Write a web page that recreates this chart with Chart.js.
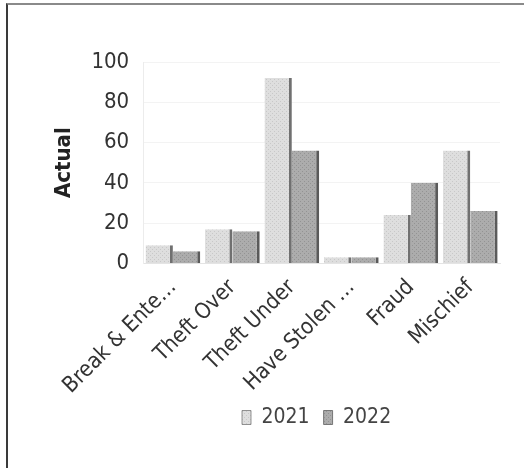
<!DOCTYPE html>
<html>
<head>
<meta charset="utf-8">
<script src="https://cdn.jsdelivr.net/npm/chart.js@4"></script>
<style>
    html, body { margin:0; padding:0; background:#fff; overflow:hidden; }
    #frame {
        position:absolute; left:0; top:0; width:524px; height:468px;
        box-sizing:border-box;
        border-top:2px solid #8a8a8a;
        border-left:2px solid #3a3a3a;
        margin-left:6px; margin-top:3px;
    }
    #chart { position:absolute; left:8px; top:5px; }
</style>
</head>
<body>
<div id="frame"></div>
<canvas id="chart" width="516" height="463"></canvas>
<script>
const categories = ['Break & Ente…', 'Theft Over', 'Theft Under', 'Have Stolen …', 'Fraud', 'Mischief'];
const seriesNames = ['2021', '2022'];
const values2021 = [9, 17, 92, 3, 24, 56];
const values2022 = [6, 16, 56, 3, 40, 26];
const yTicks = [0, 20, 40, 60, 80, 100];

const fontFamily = '"DejaVu Sans Condensed", "DejaVu Sans", sans-serif';

// small dotted texture like the old 3D excel bars
function makePattern(base, dot){
    const c = document.createElement('canvas');
    c.width = 4; c.height = 4;
    const ctx = c.getContext('2d');
    ctx.fillStyle = base;
    ctx.fillRect(0,0,4,4);
    ctx.fillStyle = dot;
    ctx.fillRect(0,0,1,1);
    ctx.fillRect(2,2,1,1);
    return ctx.createPattern(c, 'repeat');
}

const fill2021 = makePattern('#dedede', '#c8c8c8');
const fill2022 = makePattern('#acacac', '#939393');

// legend sits under the plot area (a bit left of centre), and a little higher
const legendShift = {x: -5, y: -9};
const centerLegend = {
    id: 'centerLegend',
    afterLayout(chart){
        const lg = chart.legend;
        const ca = chart.chartArea;
        const w = lg.right - lg.left;
        const mid = (ca.left + ca.right) / 2 + legendShift.x;
        lg.left = mid - w/2;
        lg.right = mid + w/2;
        lg.top += legendShift.y;
        lg.bottom += legendShift.y;
    }
};

new Chart(document.getElementById('chart'), {
    type: 'bar',
    data: {
        labels: categories,
        datasets: [{
            label: seriesNames[0],
            data: values2021,
            backgroundColor: fill2021,
            borderColor: '#707070',
            borderWidth: {top:0, right:3, bottom:0, left:0},
            borderSkipped: false,
            barPercentage: 1.0,
            categoryPercentage: 0.92
        },{
            label: seriesNames[1],
            data: values2022,
            backgroundColor: fill2022,
            borderColor: '#5a5a5a',
            borderWidth: {top:0, right:3, bottom:0, left:0},
            borderSkipped: false,
            barPercentage: 1.0,
            categoryPercentage: 0.92
        }]
    },
    options: {
        responsive: false,
        animation: false,
        layout: { padding: {top: 57, right: 24, bottom: 21, left: 35} },
        plugins: {
            legend: {
                position: 'bottom',
                labels: {
                    color: '#444',
                    font: {family: fontFamily, size: 21},
                    boxWidth: 9,
                    boxHeight: 14,
                    padding: 14
                }
            },
            tooltip: {enabled: false}
        },
        scales: {
            x: {
                grid: {display: false},
                border: {color: '#e4e4e4'},
                ticks: {
                    color: '#333',
                    font: {family: fontFamily, size: 22},
                    maxRotation: 45,
                    minRotation: 45,
                    autoSkip: false
                }
            },
            y: {
                min: 0,
                max: 100,
                afterBuildTicks: axis => { axis.ticks = yTicks.map(v => ({value: v})); },
                grid: {color: '#f3f3f3', drawTicks: false},
                border: {color: '#ececec'},
                ticks: {
                    color: '#333',
                    font: {family: fontFamily, size: 22},
                    padding: 14
                },
                title: {
                    display: true,
                    text: 'Actual',
                    color: '#222',
                    font: {family: fontFamily, size: 22, weight: 'bold'},
                    padding: {top: 8, bottom: 0}
                }
            }
        }
    },
    plugins: [centerLegend]
});
</script>
</body>
</html>
